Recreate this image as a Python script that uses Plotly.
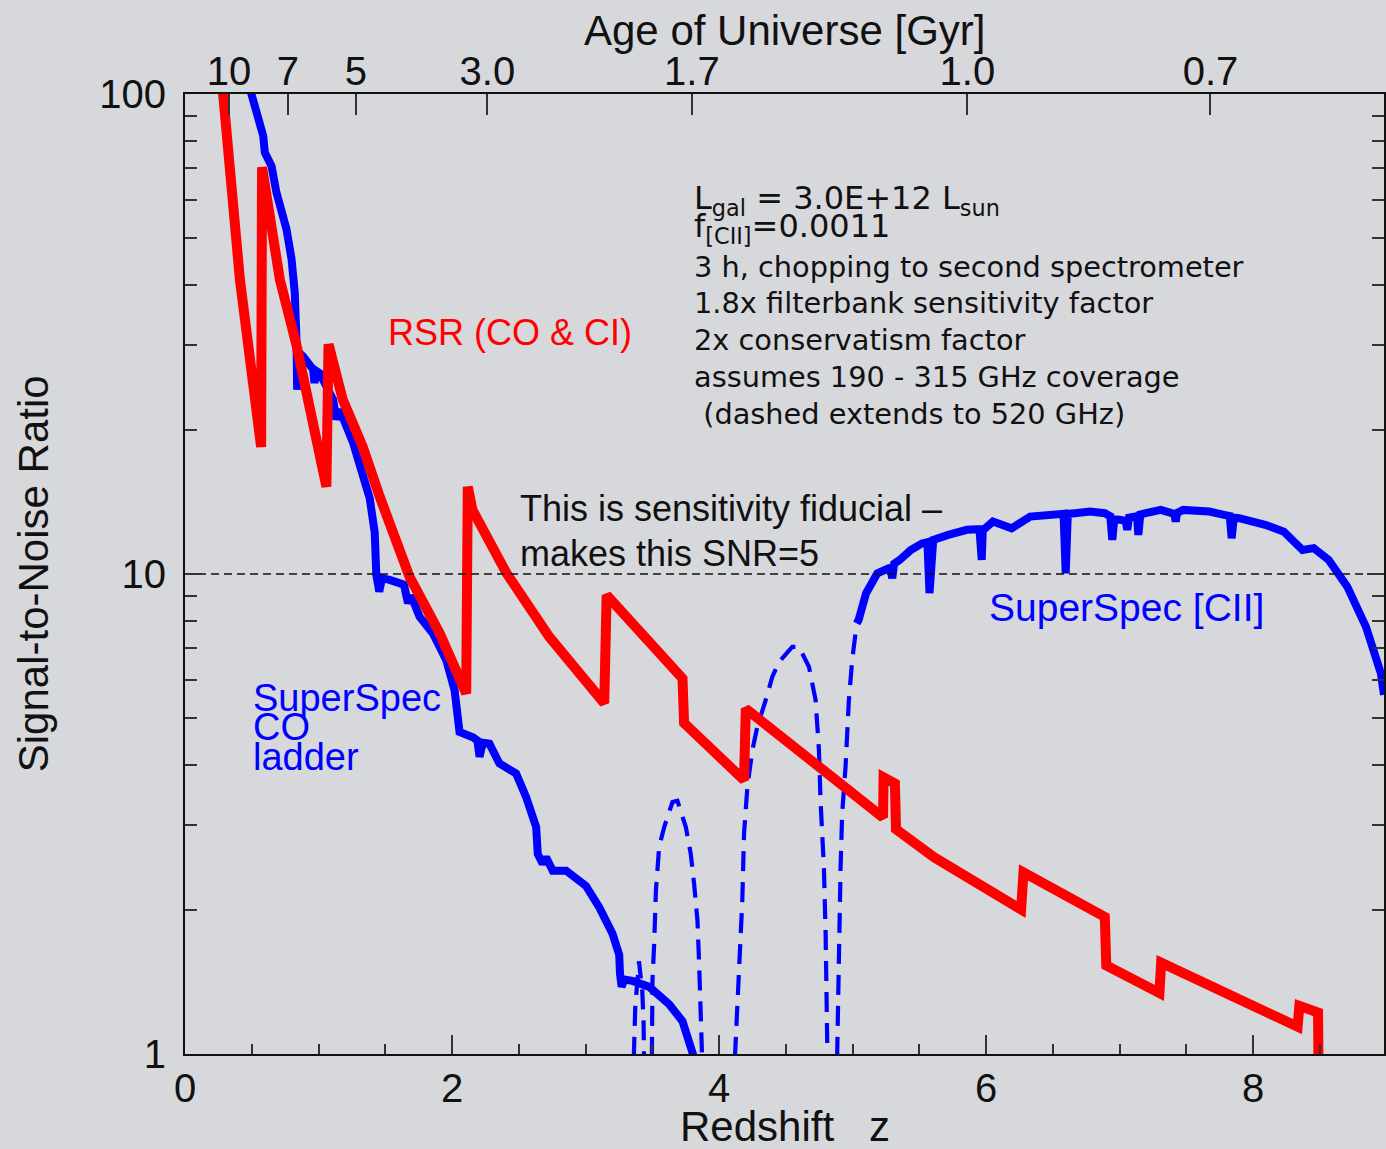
import plotly.graph_objects as go

# ---------------- data ----------------
# RSR (CO & CI) signal-to-noise vs redshift
rsr_z = [0.26, 0.411, 0.570, 0.577, 0.710, 0.837, 1.059, 1.075, 1.181, 1.331,
         1.458, 1.682, 1.907, 2.106, 2.118, 2.153, 2.407, 2.729, 3.140, 3.158,
         3.726, 3.738, 4.187, 4.200, 5.228, 5.232, 5.317, 5.325, 5.611, 6.262,
         6.280, 6.889, 6.900, 7.298, 7.311, 8.333, 8.346, 8.486, 8.492]
rsr_snr = [120, 41.1, 18.4, 70.4, 41.1, 29.8, 15.2, 30.1, 23.1, 18.4,
           14.5, 9.86, 7.53, 5.64, 15.2, 13.6, 10.05, 7.39, 5.38, 9.04,
           6.06, 4.89, 3.72, 5.24, 3.11, 3.77, 3.66, 2.94, 2.57, 2.00,
           2.39, 1.93, 1.53, 1.34, 1.55, 1.14, 1.26, 1.22, 0.8]

# SuperSpec CO ladder
co_z = [0.48, 0.536, 0.586, 0.598, 0.648, 0.685, 0.71, 0.76, 0.798, 0.822,
        0.835, 0.840, 0.850, 0.884, 0.959, 0.970, 0.982, 1.009, 1.109, 1.134,
        1.159, 1.258, 1.308, 1.383, 1.421, 1.433, 1.455, 1.475, 1.533, 1.583,
        1.640, 1.670, 1.690, 1.707, 1.757, 1.857, 1.957, 2.019, 2.044, 2.056,
        2.156, 2.190, 2.206, 2.230, 2.280, 2.355, 2.480, 2.555, 2.630, 2.642,
        2.679, 2.704, 2.754, 2.854, 3.003, 3.103, 3.202, 3.252, 3.258, 3.270,
        3.290, 3.352, 3.477, 3.626, 3.726, 3.813, 3.84]
co_snr = [104, 91.6, 81.8, 75.5, 70.8, 62.3, 58.5, 52.3, 45.3, 38.6,
          30.8, 24.2, 29.0, 28.4, 26.7, 25.0, 26.5, 26.2, 23.1, 21.0,
          22.0, 18.8, 17.0, 14.4, 12.2, 9.95, 9.19, 9.8, 9.72, 9.64,
          9.5, 8.69, 9.0, 8.83, 8.15, 7.52, 6.61, 5.73, 4.88, 4.69,
          4.57, 4.5, 4.16, 4.45, 4.43, 4.03, 3.84, 3.43, 2.97, 2.61,
          2.49, 2.57, 2.41, 2.41, 2.24, 2.02, 1.78, 1.61, 1.47, 1.38,
          1.43, 1.42, 1.38, 1.27, 1.17, 1.0, 0.93]

# SuperSpec [CII], 190 - 315 GHz coverage
cii_z = [5.031, 5.045, 5.101, 5.185, 5.269, 5.283, 5.297, 5.311, 5.353, 5.436,
         5.520, 5.560, 5.576, 5.590, 5.604, 5.716, 5.856, 5.950, 5.967, 5.975,
         5.981, 6.051, 6.191, 6.330, 6.526, 6.580, 6.596, 6.612, 6.666, 6.778,
         6.889, 6.930, 6.945, 6.960, 7.001, 7.045, 7.057, 7.070, 7.113, 7.130,
         7.140, 7.155, 7.196, 7.308, 7.392, 7.410, 7.420, 7.430, 7.476, 7.671,
         7.783, 7.825, 7.839, 7.855, 7.895, 8.090, 8.230, 8.370, 8.454, 8.566,
         8.705, 8.845, 8.957, 8.98]
cii_snr = [7.89, 8.02, 9.12, 10.03, 10.28, 10.3, 9.80, 10.5, 10.7, 11.22,
           11.58, 11.65, 9.12, 11.7, 11.78, 12.06, 12.36, 12.4, 10.7, 12.3,
           12.36, 12.86, 12.45, 13.17, 13.39, 13.35, 10.03, 13.35, 13.39, 13.49,
           13.39, 13.2, 11.78, 13.0, 12.97, 12.9, 12.36, 13.1, 13.17, 13.2,
           12.06, 13.3, 13.39, 13.6, 13.39, 13.3, 12.86, 13.4, 13.6, 13.49,
           13.28, 13.2, 11.87, 13.1, 13.07, 12.66, 12.25, 11.22, 11.32, 10.7,
           9.41, 7.76, 6.20, 5.6]

# SuperSpec with coverage extended to 520 GHz (dashed arches)
ext1_z = [3.355, 3.362, 3.372, 3.40, 3.425, 3.435, 3.44]
ext1_snr = [0.85, 1.1, 1.25, 1.56, 1.35, 1.15, 0.85]
ext2_z = [3.495, 3.501, 3.514, 3.527, 3.551, 3.589, 3.651, 3.688, 3.751, 3.788,
          3.813, 3.838, 3.850, 3.875, 3.88]
ext2_snr = [0.85, 1.42, 1.70, 2.19, 2.70, 2.97, 3.35, 3.37, 2.97, 2.61,
            2.26, 1.90, 1.56, 1.0, 0.85]
ext3_z = [4.108, 4.137, 4.174, 4.187, 4.212, 4.249, 4.286, 4.349, 4.399, 4.449,
          4.548, 4.598, 4.673, 4.723, 4.748, 4.760, 4.785, 4.798, 4.810, 4.815]
ext3_snr = [0.85, 1.25, 2.09, 2.88, 3.60, 4.29, 4.80, 5.46, 6.11, 6.56,
            7.05, 7.05, 6.41, 5.46, 4.29, 3.37, 2.45, 1.78, 1.0, 0.85]
ext4_z = [4.880, 4.897, 4.910, 4.922, 4.947, 4.972, 4.997, 5.031]
ext4_snr = [0.85, 1.78, 2.45, 3.17, 3.96, 5.46, 6.61, 7.89]

# sensitivity fiducial
fid_z = [0, 8.98]
fid_snr = [10, 10]

# axes
z_range = [0, 8.98]
z_ticks = [0, 2, 4, 6, 8]
z_minor = [0.5, 1, 1.5, 2.5, 3, 3.5, 4.5, 5, 5.5, 6.5, 7, 7.5, 8.5]
snr_ticks = [1, 10, 100]
snr_ticktext = ["1", "10", "100"]
snr_minor = [2, 3, 4, 5, 6, 7, 8, 9, 20, 30, 40, 50, 60, 70, 80, 90]
age_z = [0.329, 0.77, 1.279, 2.265, 3.796, 5.86, 7.68]
age_text = ["10", "7", "5", "3.0", "1.7", "1.0", "0.7"]

# ---------------- figure ----------------
W, H = 1386, 1149
ML, MR, MT, MB = 185, 0, 94, 95
PW, PH = W - ML - MR, H - MT - MB


def xp(px):
    return (px - ML) / PW


def yp(py):
    return (H - MB - py) / PH


SANS = "Liberation Sans, Arial, Helvetica, sans-serif"
WIDE = "DejaVu Sans, Verdana, sans-serif"
BLUE = "#0000ff"
RED = "#ff0000"
INK = "#111111"
BG = "#d7d8dc"

fig = go.Figure()

fig.add_trace(go.Scatter(x=fid_z, y=fid_snr, mode="lines", xaxis="x2",
                         line=dict(color=INK, width=1.6, dash="8px,5px"),
                         hoverinfo="skip", showlegend=False))

for ez, es in [(ext1_z, ext1_snr), (ext2_z, ext2_snr),
               (ext3_z, ext3_snr), (ext4_z, ext4_snr)]:
    fig.add_trace(go.Scatter(x=ez, y=es, mode="lines",
                             line=dict(color=BLUE, width=4.2, dash="20px,11px"),
                             showlegend=False))

fig.add_trace(go.Scatter(x=co_z, y=co_snr, mode="lines",
                         line=dict(color=BLUE, width=8), showlegend=False))
fig.add_trace(go.Scatter(x=cii_z, y=cii_snr, mode="lines",
                         line=dict(color=BLUE, width=8), showlegend=False))
fig.add_trace(go.Scatter(x=rsr_z, y=rsr_snr, mode="lines",
                         line=dict(color=RED, width=10), showlegend=False))

annotations = []


def note(text, px, py, size, color=INK, family=SANS, xanchor="left", angle=0):
    annotations.append(dict(
        text=text, x=xp(px), y=yp(py), xref="paper", yref="paper",
        xanchor=xanchor, yanchor="middle", showarrow=False, textangle=angle,
        font=dict(family=family, size=size, color=color)))


# axis titles
note("Age of Universe [Gyr]", 786, 31, 42, xanchor="center")
note("Redshift\u00a0\u00a0\u00a0z", 786, 1126, 42, xanchor="center")
note("Signal-to-Noise Ratio", 33, 574, 42, xanchor="center", angle=-90)

# curve labels
note("RSR (CO &amp; CI)", 386, 333, 36, color=RED)
note("SuperSpec", 251, 698, 38, color=BLUE)
note("CO", 251, 727, 38, color=BLUE)
note("ladder", 251, 757, 38, color=BLUE)
note("SuperSpec [CII]", 988, 607, 39, color=BLUE)

# fiducial note
note("This is sensitivity fiducial \u2013", 519, 508, 36)
note("makes this SNR=5", 519, 553, 36)

# model assumptions
note("L<sub>gal</sub> = 3.0E+12 L<sub>sun</sub>", 693, 200, 32, family=WIDE)
note("f<sub>[CII]</sub>=0.0011", 693, 228, 32, family=WIDE)
note("3 h, chopping to second spectrometer", 693, 267, 28.8, family=WIDE)
note("1.8x filterbank sensitivity factor", 693, 303, 28.8, family=WIDE)
note("2x conservatism factor", 693, 340, 28.8, family=WIDE)
note("assumes 190 - 315 GHz coverage", 693, 377, 28.8, family=WIDE)
note("\u00a0(dashed extends to 520 GHz)", 693, 414, 28.8, family=WIDE)

tick_font = dict(family=SANS, size=40, color=INK)

fig.update_layout(
    width=W, height=H,
    margin=dict(l=ML, r=MR, t=MT, b=MB, pad=0),
    paper_bgcolor=BG, plot_bgcolor=BG,
    showlegend=False,
    annotations=annotations,
    xaxis=dict(
        range=z_range, tickvals=z_ticks, ticks="inside", ticklen=19,
        tickwidth=1.5, tickcolor="#333333", showline=True, linecolor=INK,
        linewidth=2, mirror=False, showgrid=False, zeroline=False,
        tickfont=tick_font, ticklabelstandoff=-2,
        minor=dict(tickvals=z_minor, ticks="inside", ticklen=10,
                   tickwidth=1.5, tickcolor="#333333", showgrid=False),
    ),
    xaxis2=dict(
        range=z_range, overlaying="x", side="top", tickvals=age_z,
        ticktext=age_text, ticks="inside", ticklen=21, tickwidth=1.5,
        tickcolor="#333333", showline=True, linecolor=INK, linewidth=2,
        showgrid=False, zeroline=False, tickfont=tick_font,
        ticklabelstandoff=-9,
    ),
    yaxis=dict(
        type="log", range=[0, 2], tickvals=snr_ticks, ticktext=snr_ticktext,
        ticks="inside", ticklen=17, tickwidth=1.5, tickcolor="#333333",
        showline=True, linecolor=INK, linewidth=2, mirror="ticks",
        showgrid=False, zeroline=False, tickfont=tick_font,
        ticklabelstandoff=9,
        minor=dict(tickvals=snr_minor, ticks="inside", ticklen=12,
                   tickwidth=1.5, tickcolor="#333333", showgrid=False),
    ),
)

fig.write_html("out.html")
